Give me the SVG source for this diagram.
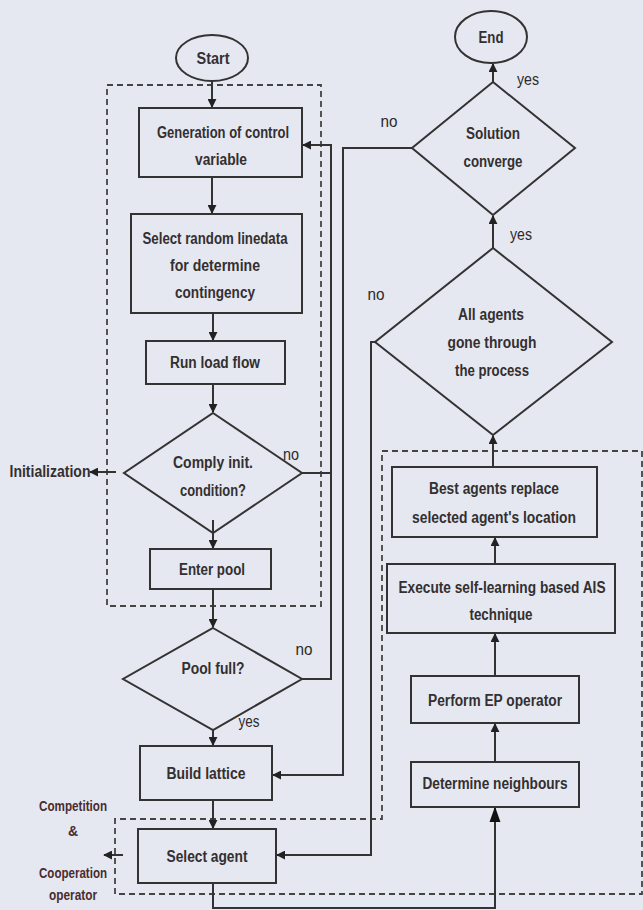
<svg xmlns="http://www.w3.org/2000/svg" width="643" height="910" viewBox="0 0 643 910">
<defs>
<style>
.bg{fill:#e5e8f0}
.n{fill:none;stroke:#333;stroke-width:2}
.d{fill:none;stroke:#444;stroke-width:1.8;stroke-dasharray:6,4}
.c{fill:none;stroke:#333;stroke-width:2}
text{font-family:"Liberation Sans",Arial,sans-serif;font-weight:bold;fill:#342f30;text-anchor:middle;font-size:16px}
.l{font-weight:normal;font-size:17px;fill:#2a2a2a}
.s{font-size:14px;fill:#4a2c30}
</style>
<marker id="a" viewBox="0 0 10 10" refX="9" refY="5" markerWidth="9" markerHeight="9" markerUnits="userSpaceOnUse" orient="auto"><path d="M0,0L10,5L0,10z" fill="#222"/></marker>
<marker id="b" viewBox="0 0 10 10" refX="9" refY="5" markerWidth="16" markerHeight="16" markerUnits="userSpaceOnUse" orient="auto"><path d="M0,1.5L10,5L0,8.5z" fill="#111"/></marker>
</defs>
<rect class="bg" x="0" y="0" width="643" height="910"/>

<g id="regions">
<rect class="d" x="107" y="85" width="214" height="521"/>
<path class="d" d="M382,451H642V894H115V819H382Z"/>
</g>

<g id="connectors">
<path class="c" d="M212,81V107" marker-end="url(#a)"/>
<path class="c" d="M212,177V213" marker-end="url(#a)"/>
<path class="c" d="M213,313V340" marker-end="url(#a)"/>
<path class="c" d="M213,384V412" marker-end="url(#a)"/>
<path class="c" d="M213,520V548" marker-end="url(#a)"/>
<path class="c" d="M116,472H90" marker-end="url(#a)"/>
<path class="c" d="M302,473H331"/>
<path class="c" d="M213,589V627" marker-end="url(#a)"/>
<path class="c" d="M302,679H331V145H303" marker-end="url(#a)"/>
<path class="c" d="M213,730V745" marker-end="url(#a)"/>
<path class="c" d="M213,800V828" marker-end="url(#a)"/>
<path class="c" d="M123,855H104" marker-end="url(#a)"/>
<path class="c" d="M213,883V908H495V808" marker-end="url(#b)"/>
<path class="c" d="M495,762V724" marker-end="url(#a)"/>
<path class="c" d="M495,676V634" marker-end="url(#a)"/>
<path class="c" d="M495,564V538" marker-end="url(#a)"/>
<path class="c" d="M493,467V436" marker-end="url(#a)"/>
<path class="c" d="M493,248V216" marker-end="url(#a)"/>
<path class="c" d="M493,82V64" marker-end="url(#a)"/>
<path class="c" d="M412,148H343V775H273" marker-end="url(#a)"/>
<path class="c" d="M375,342H371V855H277" marker-end="url(#a)"/>
<text class="l" x="291" y="460" textLength="16" lengthAdjust="spacingAndGlyphs">no</text>
<text class="l" x="304" y="655" textLength="17" lengthAdjust="spacingAndGlyphs">no</text>
<text class="l" x="249" y="727" textLength="21" lengthAdjust="spacingAndGlyphs">yes</text>
<text class="l" x="528" y="85" textLength="22" lengthAdjust="spacingAndGlyphs">yes</text>
<text class="l" x="389" y="127" textLength="17" lengthAdjust="spacingAndGlyphs">no</text>
<text class="l" x="521" y="240" textLength="22" lengthAdjust="spacingAndGlyphs">yes</text>
<text class="l" x="376" y="300" textLength="17" lengthAdjust="spacingAndGlyphs">no</text>
</g>

<g id="start"><ellipse class="n" cx="212" cy="58" rx="36" ry="23"/><text x="213" y="64" textLength="33" lengthAdjust="spacingAndGlyphs">Start</text></g>
<g id="end"><ellipse class="n" cx="491" cy="37" rx="36" ry="26"/><text x="491" y="43" textLength="25" lengthAdjust="spacingAndGlyphs">End</text></g>
<g id="gen"><rect class="n" x="139" y="108" width="163" height="69"/><text x="223" y="138" textLength="132" lengthAdjust="spacingAndGlyphs">Generation of control</text><text x="221" y="165" textLength="52" lengthAdjust="spacingAndGlyphs">variable</text></g>
<g id="select-random"><rect class="n" x="131" y="214" width="171" height="99"/><text x="215" y="244" textLength="145" lengthAdjust="spacingAndGlyphs">Select random linedata</text><text x="215" y="271" textLength="90" lengthAdjust="spacingAndGlyphs">for determine</text><text x="215" y="298" textLength="80" lengthAdjust="spacingAndGlyphs">contingency</text></g>
<g id="run-load-flow"><rect class="n" x="146" y="341" width="139" height="43"/><text x="215" y="368" textLength="90" lengthAdjust="spacingAndGlyphs">Run load flow</text></g>
<g id="comply"><polygon class="n" points="213,413 302,473 213,533 124,473"/><text x="213" y="468" textLength="80" lengthAdjust="spacingAndGlyphs">Comply init.</text><text x="213" y="496" textLength="66" lengthAdjust="spacingAndGlyphs">condition?</text></g>
<g id="initialization"><text x="50" y="477" textLength="81" lengthAdjust="spacingAndGlyphs">Initialization</text></g>
<g id="enter-pool"><rect class="n" x="150" y="549" width="121" height="40"/><text x="212" y="575" textLength="66" lengthAdjust="spacingAndGlyphs">Enter pool</text></g>
<g id="pool-full"><polygon class="n" points="213,628 302,679 213,730 123,679"/><text x="213" y="674" textLength="63" lengthAdjust="spacingAndGlyphs">Pool full?</text></g>
<g id="build-lattice"><rect class="n" x="140" y="746" width="132" height="54"/><text x="206" y="779" textLength="79" lengthAdjust="spacingAndGlyphs">Build lattice</text></g>
<g id="select-agent"><rect class="n" x="138" y="829" width="138" height="54"/><text x="207" y="862" textLength="81" lengthAdjust="spacingAndGlyphs">Select agent</text></g>
<g id="competition"><text class="s" x="73" y="811" textLength="68" lengthAdjust="spacingAndGlyphs">Competition</text><text class="s" x="73" y="836">&amp;</text><text class="s" x="73" y="878" textLength="68" lengthAdjust="spacingAndGlyphs">Cooperation</text><text class="s" x="73" y="900" textLength="48" lengthAdjust="spacingAndGlyphs">operator</text></g>
<g id="solution"><polygon class="n" points="493,82 575,148 493,215 412,148"/><text x="493" y="139" textLength="54" lengthAdjust="spacingAndGlyphs">Solution</text><text x="493" y="167" textLength="59" lengthAdjust="spacingAndGlyphs">converge</text></g>
<g id="all-agents"><polygon class="n" points="493,248 612,342 493,435 375,342"/><text x="491" y="320" textLength="66" lengthAdjust="spacingAndGlyphs">All agents</text><text x="492" y="348" textLength="89" lengthAdjust="spacingAndGlyphs">gone through</text><text x="492" y="376" textLength="74" lengthAdjust="spacingAndGlyphs">the process</text></g>
<g id="best-agents"><rect class="n" x="392" y="467" width="205" height="70"/><text x="494" y="494" textLength="130" lengthAdjust="spacingAndGlyphs">Best agents replace</text><text x="494" y="523" textLength="164" lengthAdjust="spacingAndGlyphs">selected agent's location</text></g>
<g id="execute"><rect class="n" x="387" y="564" width="228" height="69"/><text x="502" y="593" textLength="207" lengthAdjust="spacingAndGlyphs">Execute self-learning based AIS</text><text x="501" y="620" textLength="63" lengthAdjust="spacingAndGlyphs">technique</text></g>
<g id="perform-ep"><rect class="n" x="411" y="676" width="168" height="47"/><text x="495" y="706" textLength="134" lengthAdjust="spacingAndGlyphs">Perform EP operator</text></g>
<g id="determine"><rect class="n" x="411" y="762" width="168" height="45"/><text x="495" y="789" textLength="145" lengthAdjust="spacingAndGlyphs">Determine neighbours</text></g>
</svg>
